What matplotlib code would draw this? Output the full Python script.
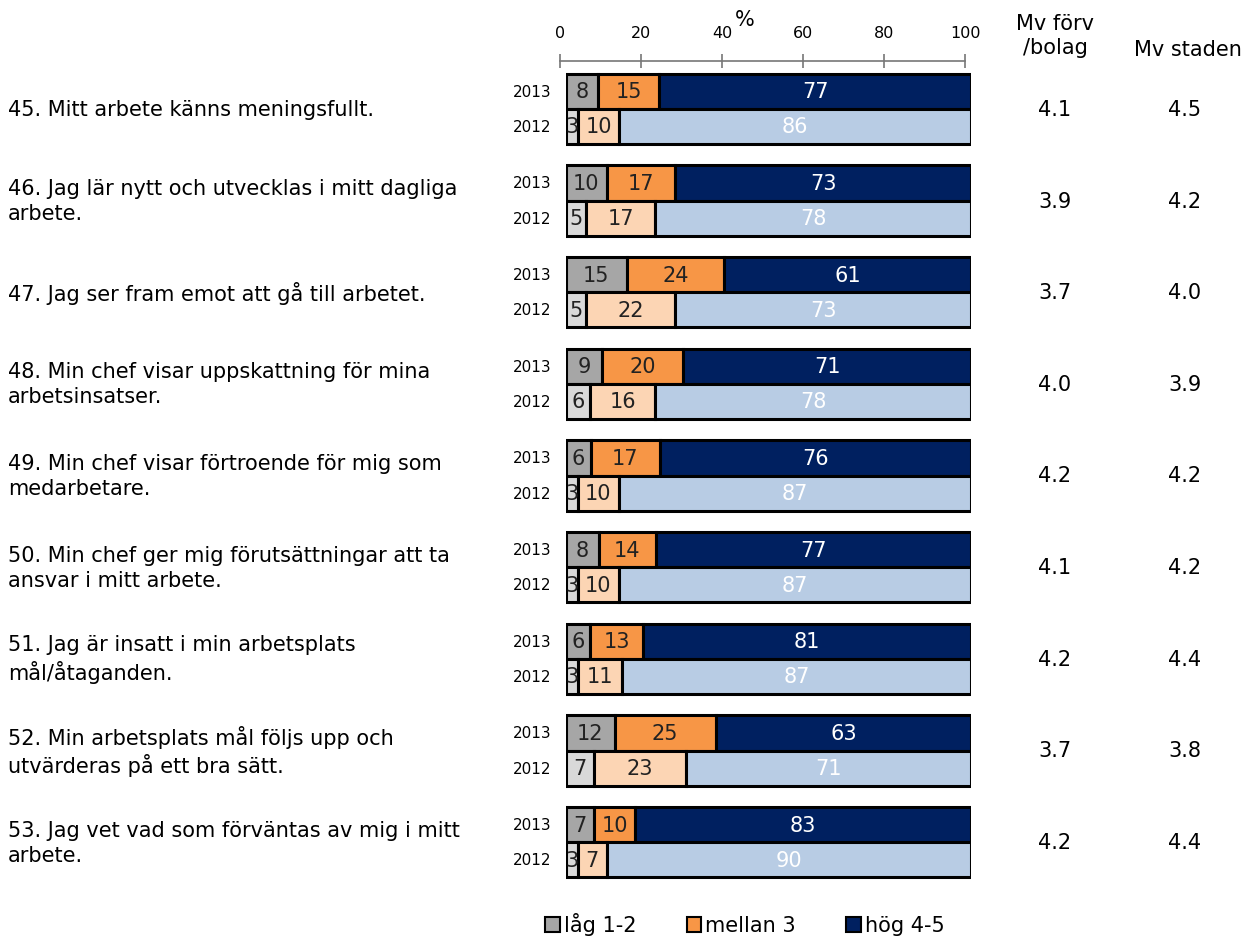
import numpy as np
import matplotlib
matplotlib.use("Agg")
import matplotlib.pyplot as plt
from matplotlib.patches import Patch
from matplotlib.transforms import blended_transform_factory

# ---------------- data -----------------
fragor = ["45. Mitt arbete känns meningsfullt.",
          "46. Jag lär nytt och utvecklas i mitt dagliga\narbete.",
          "47. Jag ser fram emot att gå till arbetet.",
          "48. Min chef visar uppskattning för mina\narbetsinsatser.",
          "49. Min chef visar förtroende för mig som\nmedarbetare.",
          "50. Min chef ger mig förutsättningar att ta\nansvar i mitt arbete.",
          "51. Jag är insatt i min arbetsplats\nmål/åtaganden.",
          "52. Min arbetsplats mål följs upp och\nutvärderas på ett bra sätt.",
          "53. Jag vet vad som förväntas av mig i mitt\narbete."]
lag_2013 = [8, 10, 15, 9, 6, 8, 6, 12, 7]
mellan_2013 = [15, 17, 24, 20, 17, 14, 13, 25, 10]
hog_2013 = [77, 73, 61, 71, 76, 77, 81, 63, 83]
lag_2012 = [3, 5, 5, 6, 3, 3, 3, 7, 3]
mellan_2012 = [10, 17, 22, 16, 10, 10, 11, 23, 7]
hog_2012 = [86, 78, 73, 78, 87, 87, 87, 71, 90]
mv_forv = [4.1, 3.9, 3.7, 4.0, 4.2, 4.1, 4.2, 3.7, 4.2]
mv_staden = [4.5, 4.2, 4.0, 3.9, 4.2, 4.2, 4.4, 3.8, 4.4]
serier = ["låg 1-2", "mellan 3", "hög 4-5"]

farg_2013 = ["#A6A6A6", "#F79646", "#002060"]
farg_2012 = ["#D9D9D9", "#FCD5B4", "#B8CCE4"]
text_2013 = ["#222222", "#222222", "white"]
text_2012 = ["#222222", "#222222", "white"]

W, H = 1251, 937
fig = plt.figure(figsize=(W / 100, H / 100), dpi=100)
plt.rcParams['font.family'] = ['DejaVu Sans']
FS = 15

# bar axes (pixel layout)
ax = fig.add_axes([566 / W, 1 - 889 / H, 405 / W, (889 - 64) / H])
ax.set_xlim(0, 100)
ax.set_ylim(8.5, -0.5)
ax.axis('off')

n = len(fragor)
idx = np.arange(n)
bh = 0.385

def rita(vals, ypos, farger, tfarger):
    vals = np.array(vals, dtype=float)
    norm = vals / vals.sum(axis=0) * 100
    left = np.zeros(n)
    for k in range(3):
        ax.barh(ypos, norm[k], left=left, height=bh, color=farger[k],
                edgecolor='black', linewidth=2.2)
        for i in range(n):
            ax.text(left[i] + norm[k][i] / 2, ypos[i], str(int(vals[k][i])),
                    ha='center', va='center', fontsize=FS, color=tfarger[k])
        left = left + norm[k]

rita([lag_2013, mellan_2013, hog_2013], idx - bh / 2, farg_2013, text_2013)
rita([lag_2012, mellan_2012, hog_2012], idx + bh / 2, farg_2012, text_2012)

tr_ax = blended_transform_factory(ax.transAxes, ax.transData)
tr_fig = blended_transform_factory(fig.transFigure, ax.transData)
for i in range(n):
    ax.text(-0.035, i - bh / 2, "2013", transform=tr_ax, ha='right', va='center', fontsize=11)
    ax.text(-0.035, i + bh / 2, "2012", transform=tr_ax, ha='right', va='center', fontsize=11)
    ax.text(8 / W, i, fragor[i], transform=tr_fig, ha='left', va='center',
            fontsize=FS, linespacing=1.3)
    ax.text(1055 / W, i, "%.1f" % mv_forv[i], transform=tr_fig, ha='center', va='center', fontsize=FS)
    ax.text(1185 / W, i, "%.1f" % mv_staden[i], transform=tr_fig, ha='center', va='center', fontsize=FS)

# top scale
sk = fig.add_axes([560 / W, 1 - 62 / H, 405 / W, 0.0001])
sk.set_xlim(0, 100)
sk.set_xticks([0, 20, 40, 60, 80, 100])
sk.set_yticks([])
for s in ['top', 'left', 'right']:
    sk.spines[s].set_visible(False)
sk.spines['bottom'].set_color('#777777')
sk.spines['bottom'].set_linewidth(1.2)
sk.tick_params(axis='x', direction='inout', length=10, width=1.2, color='#777777',
               labeltop=True, labelbottom=False, top=False, bottom=True, pad=10, labelsize=11.5)
fig.text(745 / W, 1 - 20 / H, "%", ha='center', va='center', fontsize=FS)

fig.text(1055 / W, 1 - 36 / H, "Mv förv\n/bolag", ha='center', va='center', fontsize=FS, linespacing=1.3)
fig.text(1188 / W, 1 - 50 / H, "Mv staden", ha='center', va='center', fontsize=FS)

handles = [Patch(facecolor=farg_2013[k], edgecolor='black', linewidth=1.5) for k in range(3)]
fig.legend(handles, serier, loc='center', bbox_to_anchor=(745 / W, 1 - 925 / H), ncol=3,
           frameon=False, fontsize=FS, handlelength=0.7, handleheight=0.7,
           handletextpad=0.2, columnspacing=2.4)

fig.savefig("out.png", dpi=100)
